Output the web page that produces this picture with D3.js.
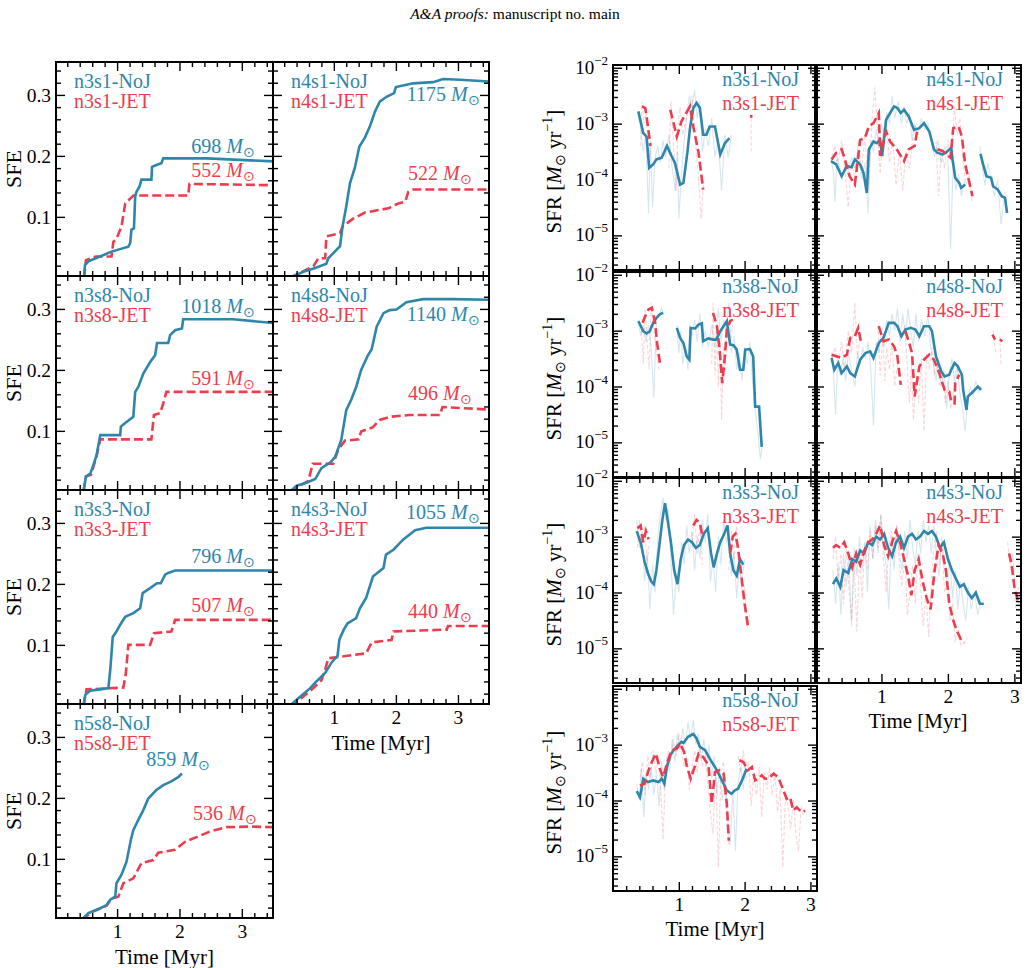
<!DOCTYPE html>
<html><head><meta charset="utf-8">
<script src="https://cdn.jsdelivr.net/npm/d3@7"></script>
<style>body{margin:0;background:#fff}</style>
</head><body><svg id="c" width="1030" height="968"></svg>
<script>
// ---------------- DATA ----------------
const runs = ["n3s1","n4s1","n3s8","n4s8","n3s3","n4s3","n5s8"];
const massNoJ = [698,1175,1018,1140,796,1055,859];
const massJET = [552,522,591,496,507,440,536];
const sfeTicks = [0.1,0.2,0.3];
const timeTicks = [1,2,3];
const sfrTickExp = [-2,-3,-4,-5];

// SFE curves: [time Myr, SFE]
const sfeNoJ_n3s1=[[0.47,0],[0.485,0.021],[0.54,0.027],[0.725,0.035],[0.91,0.043],[1.18,0.051],[1.21,0.057],[1.23,0.079],[1.27,0.081],[1.29,0.133],[1.31,0.141],[1.36,0.150],[1.39,0.161],[1.55,0.161],[1.56,0.182],[1.63,0.185],[1.71,0.188],[1.74,0.196],[2.44,0.196],[3.5,0.191]];
const sfeJET_n3s1=[[0.47,0],[0.50,0.029],[0.66,0.035],[0.91,0.035],[0.94,0.059],[0.99,0.064],[1.07,0.084],[1.13,0.122],[1.21,0.130],[1.26,0.135],[2.14,0.135],[2.16,0.154],[3.5,0.152]];
const sfeNoJ_n4s1=[[0.29,0],[0.51,0.010],[0.70,0.016],[0.88,0.023],[0.91,0.032],[1.10,0.052],[1.14,0.084],[1.20,0.117],[1.26,0.155],[1.34,0.181],[1.41,0.215],[1.50,0.230],[1.58,0.248],[1.66,0.272],[1.74,0.289],[1.85,0.297],[1.97,0.303],[2.00,0.313],[2.28,0.319],[2.60,0.321],[2.76,0.326],[3.03,0.325],[3.5,0.322]];
const sfeJET_n4s1=[[0.29,0],[0.67,0.019],[0.75,0.032],[0.86,0.032],[0.88,0.068],[1.10,0.073],[1.14,0.084],[1.31,0.097],[1.50,0.107],[1.66,0.110],[1.88,0.114],[2.04,0.122],[2.15,0.125],[2.20,0.141],[2.28,0.145],[3.5,0.145]];
const sfeNoJ_n3s8=[[0.46,0],[0.50,0.025],[0.57,0.030],[0.62,0.044],[0.67,0.060],[0.73,0.093],[1.05,0.093],[1.06,0.107],[1.13,0.113],[1.26,0.123],[1.29,0.164],[1.34,0.172],[1.42,0.194],[1.53,0.213],[1.61,0.224],[1.64,0.244],[1.82,0.244],[1.85,0.257],[1.93,0.265],[2.04,0.268],[2.06,0.283],[2.86,0.283],[3.5,0.277]];
const sfeJET_n3s8=[[0.46,0],[0.50,0.025],[0.58,0.028],[0.67,0.058],[0.73,0.086],[1.55,0.086],[1.59,0.126],[1.69,0.129],[1.74,0.145],[1.79,0.164],[3.5,0.164]];
const sfeNoJ_n4s8=[[0.29,0],[0.40,0.010],[0.56,0.015],[0.70,0.021],[0.80,0.039],[0.94,0.048],[1.02,0.057],[1.12,0.085],[1.20,0.134],[1.28,0.151],[1.36,0.172],[1.44,0.200],[1.55,0.224],[1.61,0.234],[1.69,0.271],[1.80,0.293],[1.90,0.298],[2.01,0.299],[2.17,0.311],[2.44,0.316],[2.92,0.316],[3.5,0.315]];
const sfeJET_n4s8=[[0.29,0],[0.59,0.018],[0.66,0.046],[0.99,0.046],[1.07,0.069],[1.18,0.084],[1.40,0.086],[1.44,0.099],[1.63,0.106],[1.74,0.118],[1.90,0.123],[2.22,0.126],[2.71,0.126],[2.75,0.139],[3.5,0.135]];
const sfeNoJ_n3s3=[[0.46,0],[0.49,0.018],[0.57,0.025],[0.73,0.027],[0.86,0.029],[0.89,0.059],[0.93,0.113],[0.99,0.122],[1.05,0.133],[1.13,0.146],[1.26,0.152],[1.37,0.160],[1.41,0.185],[1.53,0.193],[1.64,0.201],[1.70,0.201],[1.77,0.215],[1.82,0.218],[1.93,0.222],[3.5,0.222]];
const sfeJET_n3s3=[[0.46,0],[0.51,0.027],[0.73,0.028],[1.10,0.030],[1.14,0.053],[1.18,0.100],[1.53,0.100],[1.59,0.119],[1.87,0.122],[1.93,0.141],[3.5,0.141]];
const sfeNoJ_n4s3=[[0.29,0],[0.40,0.010],[0.62,0.029],[0.70,0.038],[0.86,0.054],[0.97,0.072],[1.06,0.082],[1.09,0.109],[1.16,0.125],[1.22,0.135],[1.36,0.144],[1.42,0.160],[1.52,0.177],[1.63,0.212],[1.80,0.226],[1.84,0.248],[1.96,0.256],[2.12,0.273],[2.31,0.288],[2.49,0.292],[3.5,0.292]];
const sfeJET_n4s3=[[0.29,0],[0.45,0.010],[0.67,0.029],[0.80,0.042],[0.86,0.059],[0.91,0.078],[1.52,0.086],[1.61,0.104],[1.93,0.108],[1.96,0.122],[2.82,0.125],[2.84,0.131],[3.5,0.131]];
const sfeNoJ_n5s8=[[0.43,0],[0.54,0.011],[0.73,0.019],[0.83,0.024],[0.89,0.033],[0.97,0.038],[0.99,0.060],[1.07,0.074],[1.15,0.095],[1.22,0.131],[1.26,0.147],[1.34,0.164],[1.42,0.180],[1.50,0.199],[1.63,0.213],[1.74,0.221],[1.87,0.227],[1.98,0.234],[2.04,0.240]];
const sfeJET_n5s8=[[0.43,0],[0.62,0.014],[0.83,0.023],[0.91,0.035],[1.02,0.038],[1.10,0.060],[1.26,0.068],[1.39,0.093],[1.58,0.098],[1.66,0.110],[1.93,0.115],[2.09,0.128],[2.33,0.138],[2.49,0.145],[2.76,0.152],[3.13,0.153],[3.5,0.152]];

// SFR curves: [time Myr, log10 SFR (Msun/yr)], null = gap
const sfrNoJ_n3s1=[[0.385,-2.78],[0.46,-3.17],[0.51,-3.23],[0.55,-3.79],[0.61,-3.73],[0.66,-3.64],[0.74,-3.61],[0.82,-3.40],[0.89,-3.58],[0.94,-3.70],[1.02,-4.09],[1.07,-4.06],[1.13,-3.52],[1.17,-3.08],[1.22,-2.72],[1.27,-2.63],[1.32,-2.72],[1.37,-3.20],[1.42,-3.20],[1.47,-3.05],[1.55,-3.05],[1.63,-3.55],[1.70,-3.35],[1.77,-3.26]];
const sfrJET_n3s1=[[0.44,-2.69],[0.49,-2.72],[0.51,-2.87],[0.57,-3.40],null,[0.87,-2.75],[0.97,-3.23],[1.04,-2.96],[1.17,-2.69],[1.22,-3.05],[1.30,-3.52],[1.37,-4.18],null,[2.08,-2.87],[2.12,-2.87]];
const rawNoJ_n3s1=[[0.38,-2.8],[0.42,-3.1],[0.46,-3.5],[0.5,-3.2],[0.54,-4.6],[0.57,-3.3],[0.6,-4.5],[0.64,-3.6],[0.68,-3.4],[0.72,-3.7],[0.76,-3.3],[0.8,-3.6],[0.85,-3.2],[0.9,-3.8],[0.95,-4.2],[0.98,-3.5],[1.0,-4.7],[1.04,-3.9],[1.08,-3.3],[1.12,-2.9],[1.16,-2.5],[1.2,-2.7],[1.24,-2.4],[1.28,-2.9],[1.32,-2.6],[1.36,-3.5],[1.4,-3.1],[1.45,-3.4],[1.5,-2.9],[1.55,-3.6],[1.6,-3.3],[1.65,-4.2],[1.7,-3.2],[1.75,-3.6],[1.8,-3.2]];
const rawJET_n3s1=[[0.42,-3.4],[0.44,-2.6],[0.47,-3.0],[0.5,-2.8],[0.53,-3.3],[0.56,-3.6],[0.58,-3.4],null,[0.85,-3.8],[0.88,-2.6],[0.92,-3.4],[0.96,-4.2],[0.99,-3.0],[1.02,-2.7],[1.06,-3.2],[1.1,-3.0],[1.15,-2.7],[1.2,-2.5],[1.25,-3.3],[1.3,-4.0],[1.34,-4.7],[1.38,-4.0],null,[2.1,-2.9],[2.1,-3.5]];

const sfrNoJ_n4s1=[[0.24,-3.67],[0.32,-3.73],[0.40,-3.94],[0.48,-3.76],[0.55,-3.78],[0.60,-3.64],[0.68,-3.73],[0.73,-3.88],[0.78,-4.24],[0.81,-3.46],[0.88,-3.32],[0.93,-3.35],[0.98,-3.29],[1.01,-3.58],[1.07,-2.93],[1.13,-2.81],[1.19,-2.69],[1.24,-2.72],[1.29,-2.81],[1.34,-2.75],[1.41,-2.87],[1.49,-3.11],[1.57,-3.08],[1.64,-2.99],[1.72,-3.14],[1.79,-3.46],[1.84,-3.52],[1.92,-3.55],[1.97,-3.52],[2.05,-3.43],[2.07,-3.64],[2.11,-3.97],[2.17,-4.06],[2.20,-4.15],[2.26,-4.09],null,[2.49,-3.54],[2.53,-3.73],[2.58,-3.94],[2.65,-3.97],[2.68,-4.12],[2.75,-4.18],[2.81,-4.30],[2.86,-4.33],[2.89,-4.60]];
const sfrJET_n4s1=[[0.25,-3.64],[0.32,-3.52],[0.40,-3.46],[0.45,-3.64],[0.52,-3.94],[0.60,-4.09],[0.68,-3.29],[0.75,-3.26],[0.81,-3.05],[0.88,-2.99],[0.96,-2.81],[0.98,-3.58],[1.07,-3.14],[1.13,-3.32],[1.23,-3.46],[1.34,-3.67],[1.41,-3.46],[1.50,-3.40],[1.54,-3.11],null,[1.84,-3.46],[1.92,-3.49],[2.04,-3.61],[2.08,-3.08],[2.16,-3.05],[2.21,-3.23],[2.26,-3.73],[2.37,-4.30]];
const rawNoJ_n4s1=[[0.24,-3.6],[0.28,-3.9],[0.3,-4.4],[0.33,-3.6],[0.37,-3.8],[0.41,-4.0],[0.45,-3.7],[0.5,-3.9],[0.55,-3.6],[0.6,-3.8],[0.65,-3.5],[0.7,-4.0],[0.75,-3.7],[0.8,-4.6],[0.84,-3.3],[0.88,-3.5],[0.92,-3.1],[0.96,-3.4],[1.0,-3.0],[1.04,-3.2],[1.08,-2.8],[1.12,-3.0],[1.16,-2.5],[1.2,-2.9],[1.25,-2.6],[1.3,-3.0],[1.34,-2.7],[1.38,-3.0],[1.42,-2.8],[1.46,-3.3],[1.5,-3.0],[1.55,-3.2],[1.6,-2.9],[1.65,-3.1],[1.7,-3.0],[1.75,-3.3],[1.8,-3.6],[1.85,-3.3],[1.9,-3.7],[1.95,-3.4],[2.0,-3.6],[2.04,-5.25],[2.08,-3.7],[2.12,-4.2],[2.16,-3.9],[2.2,-4.3],[2.25,-4.0],null,[2.48,-3.4],[2.52,-3.8],[2.56,-4.1],[2.6,-3.7],[2.65,-4.0],[2.7,-4.3],[2.75,-4.0],[2.8,-4.8],[2.85,-4.3],[2.9,-4.6]];
const rawJET_n4s1=[[0.25,-3.6],[0.3,-3.4],[0.35,-3.7],[0.4,-3.3],[0.45,-3.8],[0.5,-4.5],[0.55,-3.7],[0.6,-4.0],[0.65,-3.3],[0.7,-3.9],[0.75,-3.2],[0.8,-4.2],[0.86,-2.9],[0.9,-2.35],[0.94,-3.1],[0.98,-3.9],[1.02,-3.2],[1.07,-2.9],[1.12,-3.7],[1.17,-3.3],[1.22,-4.1],[1.27,-3.5],[1.32,-4.2],[1.37,-3.5],[1.42,-3.8],[1.47,-3.3],[1.52,-3.0],null,[1.82,-3.3],[1.86,-4.3],[1.9,-3.5],[1.95,-3.8],[2.0,-3.3],[2.05,-3.7],[2.1,-2.7],[2.14,-3.2],[2.18,-2.9],[2.22,-3.6],[2.27,-4.1],[2.32,-3.9],[2.36,-4.4]];

const sfrNoJ_n3s8=[[0.385,-2.83],[0.46,-3.01],[0.51,-3.05],[0.56,-3.01],[0.61,-2.86],[0.66,-2.77],[0.71,-2.71],[0.76,-2.68],null,[0.97,-2.95],[1.02,-3.13],[1.07,-3.22],[1.12,-3.46],[1.16,-3.52],[1.18,-2.95],[1.25,-2.96],[1.30,-2.89],[1.35,-2.87],[1.37,-3.19],[1.45,-3.14],[1.52,-3.16],[1.57,-3.16],[1.63,-3.01],[1.68,-2.92],[1.73,-2.83],[1.78,-3.25],[1.83,-3.26],[1.88,-3.34],[1.93,-3.70],[1.98,-3.70],[2.01,-3.34],[2.08,-3.33],[2.13,-3.46],[2.16,-4.36],[2.22,-4.36],[2.26,-5.08]];
const sfrJET_n3s8=[[0.45,-2.86],[0.49,-2.74],[0.54,-2.62],[0.59,-2.59],[0.64,-2.86],[0.67,-3.22],[0.72,-3.64],null,[1.52,-2.68],[1.58,-2.92],[1.62,-3.34],[1.66,-3.94],[1.70,-3.46],[1.73,-2.98],[1.78,-2.83],[1.82,-2.80]];
const rawNoJ_n3s8=[[0.38,-2.8],[0.42,-3.1],[0.46,-2.9],[0.5,-3.2],[0.54,-2.9],[0.58,-3.3],[0.62,-4.2],[0.66,-2.8],[0.7,-2.7],[0.74,-2.6],[0.77,-2.7],null,[0.97,-2.9],[1.0,-3.4],[1.03,-3.0],[1.06,-3.6],[1.1,-3.3],[1.14,-3.7],[1.17,-2.9],[1.2,-3.1],[1.24,-2.8],[1.28,-3.2],[1.32,-2.7],[1.36,-3.3],[1.4,-3.0],[1.45,-3.3],[1.5,-2.9],[1.55,-3.3],[1.6,-2.6],[1.64,-3.2],[1.68,-2.8],[1.72,-3.0],[1.76,-2.5],[1.8,-3.4],[1.84,-3.1],[1.88,-3.7],[1.92,-3.4],[1.96,-3.9],[2.0,-3.3],[2.04,-3.6],[2.08,-3.2],[2.12,-3.9],[2.16,-4.4],[2.2,-4.8],[2.24,-5.3],[2.27,-5.0]];
const rawJET_n3s8=[[0.43,-3.0],[0.46,-3.6],[0.49,-2.6],[0.52,-3.2],[0.55,-3.7],[0.58,-2.5],[0.62,-3.0],[0.66,-3.4],[0.7,-3.7],null,[1.5,-3.6],[1.52,-2.5],[1.55,-3.8],[1.58,-2.9],[1.6,-4.0],[1.63,-3.2],[1.65,-4.6],[1.68,-3.3],[1.7,-3.8],[1.74,-2.9],[1.78,-3.2],[1.82,-2.9]];

const sfrNoJ_n4s8=[[0.25,-3.49],[0.29,-3.70],[0.35,-3.58],[0.40,-3.76],[0.48,-3.64],[0.53,-3.76],[0.60,-3.82],[0.68,-3.52],[0.76,-3.40],[0.83,-3.37],[0.88,-3.49],[0.96,-3.22],[1.03,-3.13],[1.11,-2.86],[1.19,-2.86],[1.24,-2.92],[1.30,-3.10],[1.36,-2.98],[1.44,-2.95],[1.51,-2.98],[1.57,-3.10],[1.64,-2.92],[1.72,-2.92],[1.76,-3.01],[1.82,-3.46],[1.90,-3.73],[1.95,-3.82],[2.02,-3.79],[2.05,-3.70],[2.10,-3.58],[2.15,-3.64],[2.21,-3.79],[2.23,-4.06],[2.28,-4.42],[2.30,-4.18],[2.38,-4.09],[2.45,-4.00],[2.50,-4.06]];
const sfrJET_n4s8=[[0.25,-3.43],[0.32,-3.46],[0.40,-3.49],[0.48,-3.43],[0.53,-3.13],[0.60,-3.10],[0.65,-2.95],[0.69,-3.19],null,[0.96,-2.92],[1.03,-3.19],[1.11,-3.16],[1.19,-3.28],[1.24,-3.46],[1.29,-3.97],null,[1.36,-3.01],[1.41,-3.19],[1.46,-3.40],[1.50,-4.18],[1.57,-3.64],[1.64,-3.52],[1.72,-3.43],[1.79,-3.52],[1.87,-3.76],[1.95,-4.06],[2.02,-4.09],[2.05,-4.27],[2.10,-4.30],[2.11,-3.94],[2.17,-3.79],null,[2.67,-3.07],[2.71,-3.16],null,[2.78,-3.16],[2.82,-3.19]];
const rawNoJ_n4s8=[[0.25,-3.4],[0.28,-3.8],[0.31,-4.5],[0.34,-3.6],[0.38,-3.8],[0.42,-3.5],[0.46,-3.9],[0.5,-3.4],[0.55,-3.7],[0.6,-4.0],[0.64,-3.4],[0.68,-3.6],[0.72,-3.3],[0.76,-3.5],[0.8,-3.2],[0.84,-3.7],[0.88,-4.7],[0.92,-3.2],[0.96,-3.4],[1.0,-3.0],[1.04,-3.3],[1.08,-2.8],[1.12,-3.1],[1.16,-2.7],[1.2,-3.0],[1.24,-2.6],[1.28,-3.2],[1.32,-2.7],[1.36,-3.1],[1.4,-2.6],[1.44,-3.0],[1.48,-3.3],[1.52,-2.7],[1.56,-3.2],[1.6,-2.8],[1.65,-3.1],[1.7,-2.7],[1.74,-3.3],[1.78,-3.6],[1.82,-3.9],[1.86,-3.5],[1.9,-4.0],[1.94,-3.7],[1.98,-4.4],[2.02,-3.8],[2.06,-3.5],[2.1,-3.9],[2.14,-3.6],[2.18,-4.1],[2.22,-4.4],[2.26,-4.8],[2.3,-4.2],[2.34,-4.0],[2.38,-4.2],[2.42,-3.9],[2.46,-4.1],[2.5,-4.0]];
const rawJET_n4s8=[[0.25,-3.5],[0.3,-3.3],[0.35,-3.6],[0.4,-3.2],[0.45,-3.7],[0.5,-3.0],[0.55,-3.4],[0.6,-2.5],[0.64,-3.5],[0.68,-3.0],null,[0.95,-2.9],[0.98,-3.8],[1.02,-3.1],[1.05,-3.9],[1.08,-3.3],[1.12,-3.7],[1.16,-3.2],[1.2,-4.0],[1.24,-3.6],null,[1.35,-2.9],[1.38,-3.5],[1.42,-4.3],[1.45,-3.6],[1.48,-4.6],[1.52,-3.9],[1.56,-4.3],[1.6,-3.5],[1.64,-4.8],[1.68,-3.4],[1.72,-3.7],[1.76,-3.3],[1.8,-3.8],[1.84,-3.6],[1.88,-4.0],[1.92,-3.8],[1.96,-4.3],[2.0,-3.9],[2.04,-4.4],[2.08,-4.1],[2.12,-3.9],[2.16,-3.6],null,[2.68,-3.0],[2.72,-3.4],null,[2.78,-3.1],[2.8,-3.6]];

const sfrNoJ_n3s3=[[0.36,-2.9],[0.42,-3.1],[0.48,-3.45],[0.53,-3.65],[0.58,-3.8],[0.62,-3.85],[0.66,-3.6],[0.7,-3.2],[0.75,-2.7],[0.79,-2.4],[0.83,-2.7],[0.88,-3.1],[0.93,-3.6],[0.98,-3.85],[1.03,-3.4],[1.08,-3.15],[1.14,-3.05],[1.2,-3.1],[1.26,-3.2],[1.32,-3.15],[1.38,-2.95],[1.44,-2.85],[1.49,-3.3],[1.53,-3.55],[1.58,-3.3],[1.63,-3.1],[1.69,-2.95],[1.74,-2.8],[1.78,-3.3],[1.83,-3.6],[1.88,-3.7],[1.93,-3.4],[1.98,-3.5]];
const sfrJET_n3s3=[[0.37,-2.85],[0.42,-2.8],[0.46,-3.1],[0.5,-2.9],[0.54,-3.05],null,[1.22,-2.8],[1.27,-2.7],[1.32,-2.75],[1.36,-3.0],null,[1.78,-3.3],[1.82,-3.0],[1.86,-2.95],[1.9,-3.2],[1.95,-3.7],[2.0,-4.2],[2.05,-4.6],[2.08,-4.6]];
const rawNoJ_n3s3=[[0.36,-2.7],[0.4,-3.2],[0.44,-2.9],[0.48,-3.8],[0.52,-3.3],[0.56,-4.3],[0.6,-3.5],[0.64,-4.0],[0.68,-3.0],[0.72,-2.6],[0.76,-2.3],[0.8,-2.7],[0.84,-2.5],[0.88,-3.4],[0.92,-4.4],[0.96,-3.7],[1.0,-4.0],[1.04,-3.1],[1.08,-3.5],[1.12,-2.8],[1.16,-3.3],[1.2,-2.9],[1.24,-3.6],[1.28,-3.0],[1.32,-3.4],[1.36,-2.7],[1.4,-3.1],[1.44,-2.6],[1.48,-3.8],[1.52,-3.4],[1.56,-4.0],[1.6,-3.0],[1.64,-3.5],[1.68,-2.7],[1.72,-3.1],[1.76,-2.9],[1.8,-3.7],[1.84,-3.3],[1.88,-4.1],[1.92,-3.5],[1.96,-3.8],[2.0,-3.4]];
const rawJET_n3s3=[[0.37,-3.2],[0.4,-2.7],[0.44,-3.3],[0.48,-2.8],[0.52,-3.5],[0.55,-3.1],null,[1.2,-3.2],[1.24,-2.6],[1.28,-3.3],[1.32,-2.8],[1.36,-3.5],null,[1.76,-3.6],[1.8,-2.9],[1.84,-3.4],[1.88,-2.8],[1.92,-3.5],[1.96,-4.0],[2.0,-3.9],[2.04,-4.6],[2.08,-4.4]];

const sfrNoJ_n4s3=[[0.27,-3.85],[0.32,-3.75],[0.38,-3.9],[0.43,-3.6],[0.5,-3.65],[0.56,-3.4],[0.62,-3.45],[0.68,-3.25],[0.74,-3.3],[0.8,-3.1],[0.86,-3.15],[0.92,-3.0],[0.98,-3.05],[1.04,-2.95],[1.1,-3.2],[1.16,-3.35],[1.22,-3.1],[1.28,-3.0],[1.34,-3.2],[1.4,-3.0],[1.46,-2.95],[1.52,-3.05],[1.58,-3.0],[1.64,-2.9],[1.7,-2.95],[1.76,-2.9],[1.82,-3.0],[1.88,-3.2],[1.94,-3.1],[2.0,-3.4],[2.06,-3.6],[2.12,-3.75],[2.18,-3.9],[2.24,-3.85],[2.3,-4.0],[2.36,-4.1],[2.42,-4.0],[2.48,-4.2],[2.54,-4.2]];
const sfrJET_n4s3=[[0.27,-3.2],[0.32,-3.15],[0.38,-3.2],[0.44,-3.1],[0.5,-3.3],[0.56,-3.55],[0.62,-3.3],[0.68,-3.5],[0.74,-3.25],[0.8,-3.1],[0.86,-3.05],[0.92,-2.95],[0.98,-2.8],[1.04,-3.15],[1.1,-3.35],[1.16,-3.1],[1.22,-2.9],[1.28,-3.1],[1.34,-3.4],[1.4,-3.7],[1.45,-4.05],[1.5,-3.6],[1.56,-3.4],[1.62,-3.8],[1.68,-4.1],[1.74,-4.3],[1.8,-3.6],[1.86,-3.15],[1.92,-3.3],[1.97,-3.6],[2.02,-4.2],[2.08,-4.5],[2.14,-4.7],[2.2,-4.85],[2.25,-4.9],null,[2.92,-3.3],[2.96,-3.5],[3.0,-3.9],[3.06,-4.2]];
const rawNoJ_n4s3=[[0.27,-3.6],[0.31,-4.2],[0.35,-3.5],[0.39,-4.4],[0.43,-3.3],[0.47,-3.9],[0.51,-3.4],[0.55,-4.6],[0.59,-3.2],[0.63,-3.7],[0.67,-3.0],[0.71,-3.6],[0.75,-3.1],[0.79,-4.0],[0.83,-2.8],[0.87,-3.4],[0.91,-2.7],[0.95,-3.3],[0.99,-2.6],[1.03,-3.2],[1.07,-3.5],[1.11,-4.3],[1.15,-3.0],[1.19,-3.6],[1.23,-2.8],[1.27,-3.3],[1.31,-3.6],[1.35,-2.9],[1.39,-3.4],[1.43,-2.7],[1.47,-3.2],[1.51,-3.5],[1.55,-2.9],[1.59,-3.3],[1.63,-2.7],[1.67,-3.1],[1.71,-2.8],[1.75,-3.3],[1.79,-2.8],[1.83,-3.4],[1.87,-3.7],[1.91,-3.0],[1.95,-3.5],[1.99,-3.9],[2.03,-3.4],[2.07,-4.1],[2.11,-3.6],[2.15,-4.3],[2.19,-3.8],[2.23,-4.2],[2.27,-4.5],[2.31,-3.9],[2.35,-4.3],[2.4,-4.0],[2.45,-4.4],[2.5,-4.1]];
const rawJET_n4s3=[[0.27,-3.4],[0.31,-3.0],[0.35,-3.8],[0.39,-3.3],[0.43,-4.2],[0.47,-3.2],[0.51,-3.9],[0.55,-4.5],[0.59,-3.5],[0.63,-4.7],[0.67,-3.3],[0.71,-4.1],[0.75,-3.1],[0.79,-3.6],[0.83,-2.9],[0.87,-3.4],[0.91,-2.8],[0.95,-3.2],[0.99,-2.6],[1.03,-3.4],[1.07,-4.0],[1.11,-3.2],[1.15,-2.9],[1.19,-3.4],[1.23,-2.8],[1.27,-3.5],[1.31,-3.9],[1.35,-3.3],[1.39,-4.4],[1.43,-4.0],[1.47,-3.5],[1.51,-4.2],[1.55,-3.3],[1.59,-3.9],[1.63,-4.6],[1.67,-4.0],[1.71,-4.8],[1.75,-3.8],[1.79,-3.2],[1.83,-2.9],[1.87,-3.5],[1.91,-3.1],[1.95,-4.0],[1.99,-3.8],[2.03,-4.5],[2.07,-4.2],[2.11,-4.9],[2.15,-4.6],[2.2,-5.0],null,[2.9,-3.1],[2.94,-3.6],[2.98,-3.3],[3.02,-4.3],[3.06,-3.9]];

const sfrNoJ_n5s8=[[0.36,-3.83],[0.41,-3.94],[0.46,-3.61],[0.53,-3.67],[0.61,-3.64],[0.69,-3.67],[0.74,-3.61],[0.78,-3.70],[0.82,-3.40],[0.87,-3.19],[0.92,-3.10],[0.99,-3.01],[1.04,-2.95],[1.07,-2.97],[1.14,-2.86],[1.22,-2.81],[1.27,-2.89],[1.32,-3.04],[1.40,-3.10],[1.47,-3.25],[1.58,-3.46],[1.68,-3.70],[1.73,-3.82],[1.80,-3.88],[1.85,-3.82],[1.90,-3.79],[1.96,-3.64],[2.03,-3.43]];
const sfrJET_n5s8=[[0.41,-3.73],[0.48,-3.70],[0.54,-3.46],[0.59,-3.31],[0.65,-3.16],[0.72,-3.46],[0.76,-3.58],[0.82,-3.34],[0.89,-3.10],[0.97,-3.07],[1.02,-2.98],[1.08,-3.13],[1.12,-3.37],[1.18,-3.61],[1.25,-3.37],[1.30,-3.16],[1.37,-3.22],[1.45,-3.37],[1.50,-4.06],[1.55,-3.49],[1.62,-3.46],[1.68,-3.52],[1.73,-4.06],[1.76,-4.72],null,[1.92,-3.28],[1.98,-3.31],[2.05,-3.46],[2.11,-3.40],[2.16,-3.64],[2.21,-3.61],[2.26,-3.55],[2.31,-3.61],[2.36,-3.61],[2.44,-3.52],[2.51,-3.58],[2.57,-3.76],[2.64,-3.97],[2.69,-3.94],[2.74,-4.18],[2.79,-4.12],[2.87,-4.21],[2.92,-4.18]];
const rawNoJ_n5s8=[[0.36,-3.7],[0.4,-4.0],[0.43,-3.4],[0.47,-4.3],[0.5,-3.5],[0.54,-3.8],[0.58,-3.4],[0.62,-3.9],[0.66,-3.5],[0.7,-4.1],[0.74,-3.3],[0.78,-3.8],[0.82,-3.2],[0.86,-3.5],[0.9,-2.9],[0.94,-3.3],[0.98,-2.8],[1.02,-3.1],[1.06,-2.7],[1.1,-3.0],[1.14,-2.6],[1.18,-2.9],[1.22,-2.55],[1.26,-3.0],[1.3,-2.8],[1.34,-3.3],[1.38,-2.9],[1.42,-3.4],[1.46,-3.0],[1.5,-3.6],[1.54,-3.2],[1.58,-3.9],[1.62,-3.4],[1.66,-4.0],[1.7,-3.5],[1.74,-4.3],[1.78,-4.8],[1.82,-3.8],[1.86,-4.9],[1.9,-3.7],[1.94,-3.4],[1.98,-3.8],[2.02,-3.3]];
const rawJET_n5s8=[[0.41,-3.6],[0.45,-3.3],[0.49,-3.9],[0.53,-3.2],[0.57,-3.6],[0.61,-3.1],[0.65,-3.5],[0.69,-3.2],[0.73,-3.9],[0.76,-4.7],[0.8,-3.5],[0.84,-3.1],[0.88,-3.3],[0.92,-2.9],[0.96,-3.2],[1.0,-2.8],[1.04,-3.1],[1.08,-3.4],[1.12,-3.2],[1.16,-3.8],[1.2,-3.4],[1.24,-3.1],[1.28,-3.5],[1.32,-3.0],[1.36,-3.4],[1.4,-3.2],[1.44,-3.7],[1.48,-4.2],[1.52,-4.6],[1.56,-3.4],[1.6,-5.2],[1.64,-3.5],[1.68,-3.3],[1.72,-4.3],[1.76,-4.8],null,[1.9,-3.2],[1.94,-3.5],[1.98,-3.1],[2.02,-3.6],[2.06,-3.3],[2.1,-4.1],[2.14,-3.5],[2.18,-3.9],[2.22,-3.4],[2.26,-4.3],[2.3,-3.5],[2.34,-3.8],[2.38,-3.4],[2.42,-3.9],[2.46,-3.5],[2.5,-4.2],[2.54,-3.8],[2.58,-5.2],[2.62,-3.9],[2.66,-4.1],[2.7,-4.5],[2.74,-4.0],[2.78,-4.6],[2.82,-4.9],[2.86,-4.1],[2.9,-4.3]];

// ---------------- LAYOUT / STYLE ----------------
const BLUE="#2E86AB", RED="#EC3D4E", FONT="Liberation Serif, serif";
const sfeSeries = {
  n3s1:[sfeNoJ_n3s1,sfeJET_n3s1], n4s1:[sfeNoJ_n4s1,sfeJET_n4s1], n3s8:[sfeNoJ_n3s8,sfeJET_n3s8],
  n4s8:[sfeNoJ_n4s8,sfeJET_n4s8], n3s3:[sfeNoJ_n3s3,sfeJET_n3s3], n4s3:[sfeNoJ_n4s3,sfeJET_n4s3], n5s8:[sfeNoJ_n5s8,sfeJET_n5s8]};
const sfrSeries = {
  n3s1:[sfrNoJ_n3s1,sfrJET_n3s1,rawNoJ_n3s1,rawJET_n3s1], n4s1:[sfrNoJ_n4s1,sfrJET_n4s1,rawNoJ_n4s1,rawJET_n4s1],
  n3s8:[sfrNoJ_n3s8,sfrJET_n3s8,rawNoJ_n3s8,rawJET_n3s8], n4s8:[sfrNoJ_n4s8,sfrJET_n4s8,rawNoJ_n4s8,rawJET_n4s8],
  n3s3:[sfrNoJ_n3s3,sfrJET_n3s3,rawNoJ_n3s3,rawJET_n3s3], n4s3:[sfrNoJ_n4s3,sfrJET_n4s3,rawNoJ_n4s3,rawJET_n4s3],
  n5s8:[sfrNoJ_n5s8,sfrJET_n5s8,rawNoJ_n5s8,rawJET_n5s8]};
// mass label anchor (end x, baseline y) in data units: [xNoJ,yNoJ,xJET,yJET]
const massLabelAt = [[3.21,0.205,3.21,0.165],[3.35,0.290,3.22,0.161],[3.21,0.294,3.21,0.175],[3.35,0.281,3.22,0.151],[3.21,0.234,3.21,0.154],[3.35,0.306,3.22,0.144],[2.49,0.252,3.24,0.164]];

const svg = d3.select("#c");
svg.append("text").attr("x",515).attr("y",19).attr("text-anchor","middle").attr("font-family",FONT).attr("font-size",15.5)
  .call(t=>{t.append("tspan").attr("font-style","italic").text("A&A proofs:"); t.append("tspan").text(" manuscript no. main");});

const xMinorSFE = d3.range(1,18).map(i=>+(i*0.2).toFixed(1)).filter(v=>!Number.isInteger(v));
const yMinorSFE = d3.range(1,18).map(i=>+(i*0.02).toFixed(2)).filter(v=>Math.round(v*100)%10!==0);
const xMinorSFR = d3.range(1,16).map(i=>+(i*0.2).toFixed(1)).filter(v=>!Number.isInteger(v));
const yMinorSFR = []; for(let e=-6;e<=-2;e++) for(let k=2;k<=9;k++) yMinorSFR.push(k*Math.pow(10,e));

let clipId=0;
function styleAx(sel){
  sel.select(".domain").remove();
  sel.selectAll("line").attr("stroke","#000").attr("stroke-width",1.4);
  sel.selectAll("text").attr("font-family",FONT).attr("font-size",19.5).attr("fill","#000");
}
function frameAxes(g, xs, ys, w, h, o){
  const blank=()=>"";
  const add = (axis, tr) => g.append("g").attr("transform",tr||null).call(axis).call(styleAx);
  add(d3.axisBottom(xs).tickValues(o.xMaj).tickSize(-9).tickPadding(6).tickFormat(o.xLab?d3.format("d"):blank), `translate(0,${h})`);
  add(d3.axisBottom(xs).tickValues(o.xMin).tickSize(-5).tickFormat(blank), `translate(0,${h})`);
  add(d3.axisTop(xs).tickValues(o.xMaj).tickSize(-9).tickFormat(blank));
  add(d3.axisTop(xs).tickValues(o.xMin).tickSize(-5).tickFormat(blank));
  add(d3.axisLeft(ys).tickValues(o.yMaj).tickSize(-9).tickPadding(5).tickFormat(o.yFmt||blank));
  add(d3.axisLeft(ys).tickValues(o.yMin).tickSize(-5).tickFormat(blank));
  add(d3.axisRight(ys).tickValues(o.yMaj).tickSize(-9).tickFormat(blank), `translate(${w},0)`);
  add(d3.axisRight(ys).tickValues(o.yMin).tickSize(-5).tickFormat(blank), `translate(${w},0)`);
  g.append("rect").attr("width",w).attr("height",h).attr("fill","none").attr("stroke","#000").attr("stroke-width",2);
}
function clipG(g,w,h){
  const id="cl"+(clipId++);
  g.append("clipPath").attr("id",id).append("rect").attr("width",w).attr("height",h);
  return g.append("g").attr("clip-path",`url(#${id})`);
}
function massText(sel, m){
  sel.append("tspan").text(m+" ");
  sel.append("tspan").attr("font-style","italic").text("M");
  sel.append("tspan").attr("font-size",14).attr("dy",4).text("\u2299");
}

// ---------------- SFE GRID ----------------
const sfeX=[56,273], sfeW=[217,216], sfeTop=[62,276,490,704], sfeH=214;
runs.forEach((run,i)=>{
  const r=Math.floor(i/2), c=i%2, w=sfeW[c], h=sfeH;
  const g=svg.append("g").attr("transform",`translate(${sfeX[c]},${sfeTop[r]})`);
  const xs=d3.scaleLinear([0.02,3.5],[0,w]), ys=d3.scaleLinear([0.003,0.354],[h,0]);
  const cg=clipG(g,w,h);
  const line=d3.line().x(d=>xs(d[0])).y(d=>ys(d[1]));
  const [noj,jet]=sfeSeries[run];
  cg.append("path").attr("d",line(jet)).attr("fill","none").attr("stroke",RED).attr("stroke-width",2.6).attr("stroke-dasharray","9,4");
  cg.append("path").attr("d",line(noj)).attr("fill","none").attr("stroke",BLUE).attr("stroke-width",2.6);
  const xLab = (run==="n4s3"||run==="n5s8");
  frameAxes(g,xs,ys,w,h,{xMaj:timeTicks,xMin:xMinorSFE,yMaj:sfeTicks,yMin:yMinorSFE,xLab,yFmt:c===0?d3.format(".1f"):null});
  g.append("text").attr("x",18).attr("y",26).attr("fill",BLUE).attr("font-family",FONT).attr("font-size",20).text(run+"-NoJ");
  g.append("text").attr("x",18).attr("y",46).attr("fill",RED).attr("font-family",FONT).attr("font-size",20).text(run+"-JET");
  const p=massLabelAt[i];
  g.append("text").attr("x",xs(p[0])).attr("y",ys(p[1])).attr("text-anchor","end").attr("fill",BLUE).attr("font-family",FONT).attr("font-size",20).call(s=>massText(s,massNoJ[i]));
  g.append("text").attr("x",xs(p[2])).attr("y",ys(p[3])).attr("text-anchor","end").attr("fill",RED).attr("font-family",FONT).attr("font-size",20).call(s=>massText(s,massJET[i]));
  if(c===0) g.append("text").attr("transform",`translate(${21-sfeX[0]},${h/2}) rotate(-90)`).attr("text-anchor","middle").attr("font-family",FONT).attr("font-size",22).text("SFE");
  if(xLab) g.append("text").attr("x",w/2).attr("y",h+46).attr("text-anchor","middle").attr("font-family",FONT).attr("font-size",21).text("Time [Myr]");
});

// ---------------- SFR GRID ----------------
const sfrX=[613,815], sfrW=[204,206], sfrTop=[65,272,478,686], sfrH=205;
runs.forEach((run,i)=>{
  const r=Math.floor(i/2), c=i%2, w=sfrW[c], h=sfrH;
  const g=svg.append("g").attr("transform",`translate(${sfrX[c]},${sfrTop[r]})`);
  const xs=d3.scaleLinear([0,3.1],[0,w]), ys=d3.scaleLog([Math.pow(10,-5.62),Math.pow(10,-1.95)],[h,0]);
  const cg=clipG(g,w,h);
  const line=d3.line().defined(d=>d!==null).x(d=>xs(d[0])).y(d=>ys(Math.pow(10,d[1])));
  const [noj,jet,rn,rj]=sfrSeries[run];
  cg.append("path").attr("d",line(rn)).attr("fill","none").attr("stroke",BLUE).attr("stroke-opacity",0.2).attr("stroke-width",1.1);
  cg.append("path").attr("d",line(rj)).attr("fill","none").attr("stroke",RED).attr("stroke-opacity",0.22).attr("stroke-width",1.1).attr("stroke-dasharray","4,2");
  cg.append("path").attr("d",line(noj)).attr("fill","none").attr("stroke",BLUE).attr("stroke-width",2.6);
  cg.append("path").attr("d",line(jet)).attr("fill","none").attr("stroke",RED).attr("stroke-width",2.6).attr("stroke-dasharray","9,4");
  const xLab = (run==="n4s3"||run==="n5s8");
  const yMajV = sfrTickExp.map(e=>Math.pow(10,e));
  const yMinV = yMinorSFR.filter(v=>v>=ys.domain()[0]&&v<=ys.domain()[1]);
  frameAxes(g,xs,ys,w,h,{xMaj:timeTicks,xMin:xMinorSFR,yMaj:yMajV,yMin:yMinV,xLab});
  if(c===0){
    sfrTickExp.forEach(e=>{
      if(e===-2 && r===3) return;
      const t=g.append("text").attr("x",-5).attr("y",ys(Math.pow(10,e))+6).attr("text-anchor","end").attr("font-family",FONT).attr("font-size",19);
      t.append("tspan").text("10");
      t.append("tspan").attr("font-size",13).attr("dy",-9).text("\u2212"+(-e));
    });
    const yl=g.append("text").attr("transform",`translate(${561-sfrX[0]},${h/2+4}) rotate(-90)`).attr("text-anchor","middle").attr("font-family",FONT).attr("font-size",21);
    yl.append("tspan").text("SFR [");
    yl.append("tspan").attr("font-style","italic").text("M");
    yl.append("tspan").attr("font-size",14).attr("dy",4).text("\u2299");
    yl.append("tspan").attr("dy",-4).text(" yr");
    yl.append("tspan").attr("font-size",14).attr("dy",-9).text("\u22121");
    yl.append("tspan").attr("dy",9).text("]");
  }
  g.append("text").attr("x",w-18).attr("y",21).attr("text-anchor","end").attr("fill",BLUE).attr("font-family",FONT).attr("font-size",20).text(run+"-NoJ");
  g.append("text").attr("x",w-18).attr("y",45).attr("text-anchor","end").attr("fill",RED).attr("font-family",FONT).attr("font-size",20).text(run+"-JET");
  if(xLab) g.append("text").attr("x",w/2).attr("y",h+45).attr("text-anchor","middle").attr("font-family",FONT).attr("font-size",21).text("Time [Myr]");
});
</script></body></html>
